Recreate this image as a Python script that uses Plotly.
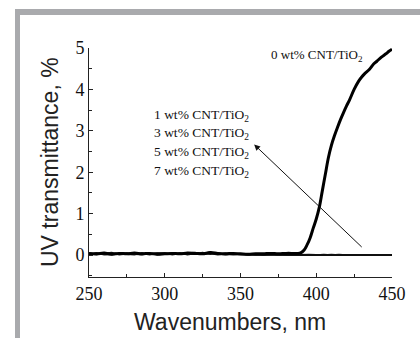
import plotly.graph_objects as go

# ---- data ----
wl_base = [250, 255, 260, 265, 270, 275, 280, 285, 290, 295, 300, 305, 310, 315, 320,
           325, 330, 335, 340, 345, 350, 355, 360, 365, 370, 375, 380, 385]
t0_base = [0.04, 0.03, 0.05, 0.02, 0.04, 0.03, 0.05, 0.03, 0.04, 0.02, 0.03, 0.04, 0.03,
           0.05, 0.04, 0.03, 0.06, 0.04, 0.03, 0.04, 0.03, 0.02, 0.03, 0.03, 0.04, 0.03, 0.04, 0.04]
wl_rise = [388, 390, 392, 394, 396, 398, 400, 402, 404, 406, 408, 410, 412, 414, 416, 418,
           420, 422, 425, 428, 430, 432, 435, 438, 440, 443, 446, 448, 450]
t0_rise = [0.04, 0.06, 0.12, 0.25, 0.42, 0.65, 0.87, 1.15, 1.55, 1.95, 2.35, 2.65, 2.88, 3.08,
           3.27, 3.44, 3.6, 3.75, 4.0, 4.2, 4.3, 4.38, 4.48, 4.62, 4.68, 4.78, 4.86, 4.92, 4.97]
wl0 = wl_base + wl_rise
t0 = t0_base + t0_rise

wl = list(range(250, 451, 5))
t1 = [0.05, 0.02, 0.04, 0.06, 0.01, 0.03, 0.05, 0.02, 0.04, 0.03, 0.02, 0.04, 0.03, 0.05, 0.06,
      0.03, 0.07, 0.02, 0.04, 0.03, 0.02, 0.01, 0.02, 0.01, 0.02, 0.01, 0.01, 0.0, 0.01, 0.0,
      0.0, 0.0, 0.01, 0.0, 0.0, 0.01, 0.0, 0.01, 0.0, 0.0, 0.0]
t3 = [0.02, 0.05, 0.01, 0.03, 0.04, 0.02, 0.01, 0.05, 0.02, 0.04, 0.05, 0.01, 0.04, 0.02, 0.03,
      0.06, 0.02, 0.05, 0.02, 0.04, 0.01, 0.02, 0.01, 0.02, 0.01, 0.01, 0.0, 0.01, 0.0, 0.0,
      0.0, 0.01, 0.0, 0.0, 0.01, 0.0, 0.0, 0.0, 0.01, 0.0, 0.0]
t5 = [0.03, 0.01, 0.03, 0.02, 0.05, 0.04, 0.03, 0.01, 0.05, 0.01, 0.03, 0.05, 0.02, 0.03, 0.02,
      0.04, 0.05, 0.03, 0.01, 0.02, 0.03, 0.01, 0.02, 0.0, 0.01, 0.02, 0.01, 0.0, 0.0, 0.01,
      0.0, 0.0, 0.0, 0.01, 0.0, 0.0, 0.01, 0.0, 0.0, 0.01, 0.0]
t7 = [0.01, 0.04, 0.02, 0.01, 0.03, 0.05, 0.02, 0.04, 0.01, 0.05, 0.04, 0.02, 0.05, 0.01, 0.04,
      0.02, 0.04, 0.01, 0.03, 0.01, 0.02, 0.02, 0.0, 0.01, 0.01, 0.0, 0.01, 0.01, 0.0, 0.0,
      0.01, 0.0, 0.0, 0.0, 0.0, 0.01, 0.0, 0.0, 0.0, 0.0, 0.0]

x_ticks = [250, 300, 350, 400, 450]
y_ticks = [0, 1, 2, 3, 4, 5]
labels_doped = ["1 wt% CNT/TiO<sub>2</sub>", "3 wt% CNT/TiO<sub>2</sub>",
                "5 wt% CNT/TiO<sub>2</sub>", "7 wt% CNT/TiO<sub>2</sub>"]
label_undoped = "0 wt% CNT/TiO<sub>2</sub>"

fig = go.Figure()
for ys in (t1, t3, t5, t7):
    fig.add_trace(go.Scatter(x=wl, y=ys, mode="lines",
                             line=dict(color="#111", width=1.6), showlegend=False))
fig.add_trace(go.Scatter(x=wl0, y=t0, mode="lines", line_shape="spline",
                         line=dict(color="#000", width=3), showlegend=False))

serif = "'Liberation Serif', 'Times New Roman', Times, serif"
sans = "'Liberation Sans', Arial, Helvetica, sans-serif"

fig.update_layout(
    width=420, height=338,
    margin=dict(l=89, r=28, t=48, b=61),
    paper_bgcolor="white", plot_bgcolor="white",
    showlegend=False,
    xaxis=dict(range=[250, 450], tickvals=x_ticks, ticks="inside", ticklen=4,
               tickcolor="#222", showline=True, linecolor="#222", linewidth=1,
               showgrid=False, zeroline=False,
               minor=dict(dtick=25, ticks="inside", ticklen=3, tickcolor="#222"),
               tickfont=dict(family=serif, size=18, color="#111")),
    yaxis=dict(range=[-0.53, 5], tickvals=y_ticks, ticks="inside", ticklen=4,
               tickcolor="#222", showline=True, linecolor="#222", linewidth=1,
               showgrid=False, zeroline=False,
               minor=dict(dtick=0.5, ticks="inside", ticklen=3, tickcolor="#222"),
               tickfont=dict(family=serif, size=18, color="#111")),
)

anns = []
anns.append(dict(text=label_undoped, x=400.4, y=4.81, xref="x", yref="y", showarrow=False,
                 font=dict(family=serif, size=13, color="#111"), xanchor="center", yanchor="middle"))
line_y = [3.378, 2.94, 2.48, 2.02]
for lab, yy in zip(labels_doped, line_y):
    anns.append(dict(text=lab, x=324.5, y=yy, xref="x", yref="y", showarrow=False,
                     font=dict(family=serif, size=13.5, color="#111"), xanchor="center",
                     yanchor="middle"))
# arrow
anns.append(dict(x=359, y=2.67, ax=431, ay=0.16, xref="x", yref="y", axref="x", ayref="y",
                 text="", showarrow=True, arrowhead=2, arrowsize=1.2, arrowwidth=1,
                 arrowcolor="#111"))
# axis titles
anns.append(dict(text="Wavenumbers, nm", x=(230 - 89) / 303, y=(277 - 322) / 229,
                 xref="paper", yref="paper", showarrow=False, xanchor="center", yanchor="middle",
                 font=dict(family=sans, size=23, color="#222")))
anns.append(dict(text="UV transmittance, %", x=(50 - 89) / 303, y=(277 - 162) / 229,
                 xref="paper", yref="paper", showarrow=False, xanchor="center", yanchor="middle",
                 textangle=-90, font=dict(family=sans, size=23, color="#222")))
fig.update_layout(annotations=anns)

# gray frame
def px_x(p):
    return (p - 89) / 303

def px_y(p):
    return (277 - p) / 229

gray = "#a9aaad"
fig.add_shape(type="rect", xref="paper", yref="paper", x0=px_x(15), x1=px_x(420),
              y0=px_y(15), y1=px_y(9), fillcolor=gray, line=dict(width=0), layer="below")
fig.add_shape(type="rect", xref="paper", yref="paper", x0=px_x(15), x1=px_x(20),
              y0=px_y(338), y1=px_y(9), fillcolor=gray, line=dict(width=0), layer="below")

fig.write_html("out.html")
